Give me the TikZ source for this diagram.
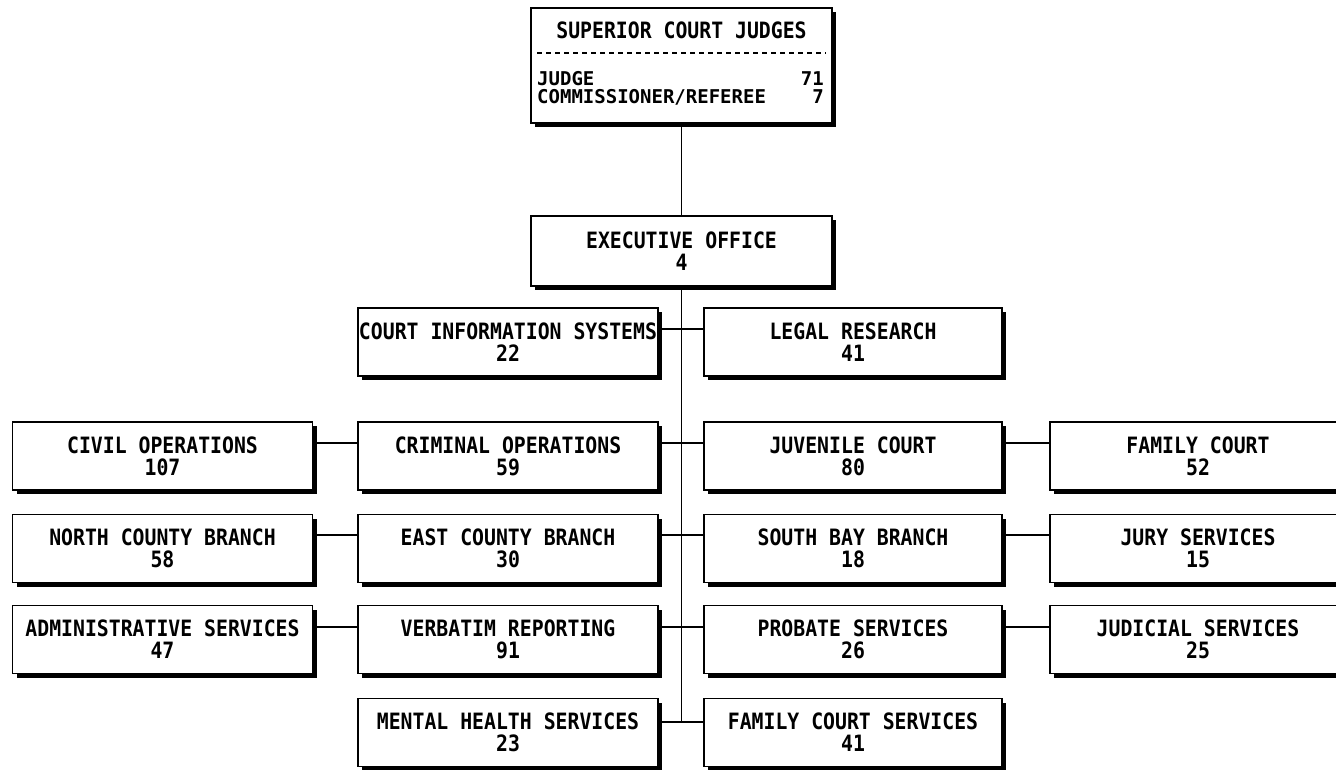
\documentclass[tikz,border=0pt]{standalone}
\usepackage{fontspec}
\usetikzlibrary{shadows}
\newfontfamily\orgfont{DejaVu Sans Mono}[FakeStretch=0.88]
\newfontfamily\subfont{DejaVu Sans Mono}

\begin{document}
\begin{tikzpicture}[x=1pt,y=-1pt,
  unit/.style={draw, line width=1.9pt, fill=white,
    minimum width=300pt, minimum height=68pt, inner sep=0pt, align=center,
    font=\orgfont\bfseries\fontsize{22.5}{22}\selectfont,
    drop shadow={shadow xshift=4pt, shadow yshift=-4pt, fill=black, opacity=1}},
  label/.style={inner sep=0pt, font=\orgfont\bfseries\fontsize{22.5}{22}\selectfont},
  sublabel/.style={inner sep=0pt, text height=14pt, text depth=0pt,
    font=\subfont\bfseries\fontsize{19}{19}\selectfont},
  link/.style={line width=1.7pt}]
\useasboundingbox (0,0) rectangle (1336,770);

% judges at the top
\node[unit, minimum width=301pt, minimum height=115pt] (judges) at (681.5,65.5) {};
\node[label] (title) at (681.5,30) {SUPERIOR COURT JUDGES};
\draw[line width=1.4pt, dash pattern=on 5pt off 4pt] (537,53) -- (826,53);
\node[sublabel, anchor=base west] (judge) at (537,86) {JUDGE};
\node[sublabel, anchor=base east] (judgen) at (824,86) {71};
\node[sublabel, anchor=base west] (comm) at (537,103.5) {COMMISSIONER/REFEREE};
\node[sublabel, anchor=base east] (commn) at (824,103.5) {7};

% executive office
\node[unit, minimum width=301pt, minimum height=70pt] (exec) at (681.5,251) {EXECUTIVE OFFICE\\4};

% first row
\node[unit] (cis) at (508,342) {COURT INFORMATION SYSTEMS\\22};
\node[unit, minimum width=298pt] (legal) at (853,342) {LEGAL RESEARCH\\41};

% second row
\node[unit] (civ) at (162.5,456) {CIVIL OPERATIONS\\107};
\node[unit] (crim) at (508,456) {CRIMINAL OPERATIONS\\59};
\node[unit, minimum width=298pt] (juv) at (853,456) {JUVENILE COURT\\80};
\node[unit, minimum width=296pt] (fam) at (1198,456) {FAMILY COURT\\52};

% third row
\node[unit] (north) at (162.5,548.5) {NORTH COUNTY BRANCH\\58};
\node[unit] (east) at (508,548.5) {EAST COUNTY BRANCH\\30};
\node[unit, minimum width=298pt] (south) at (853,548.5) {SOUTH BAY BRANCH\\18};
\node[unit, minimum width=296pt] (jury) at (1198,548.5) {JURY SERVICES\\15};

% fourth row
\node[unit] (admin) at (162.5,639.5) {ADMINISTRATIVE SERVICES\\47};
\node[unit] (verb) at (508,639.5) {VERBATIM REPORTING\\91};
\node[unit, minimum width=298pt] (prob) at (853,639.5) {PROBATE SERVICES\\26};
\node[unit, minimum width=296pt] (judic) at (1198,639.5) {JUDICIAL SERVICES\\25};

% fifth row
\node[unit] (mental) at (508,732.5) {MENTAL HEALTH SERVICES\\23};
\node[unit, minimum width=298pt] (fcs) at (853,732.5) {FAMILY COURT SERVICES\\41};

% junctions on the trunk
\coordinate (j1) at (681.5,329);
\coordinate (j2) at (681.5,443);
\coordinate (j3) at (681.5,535);
\coordinate (j4) at (681.5,627);
\coordinate (j5) at (681.5,722);

% trunk
\draw[link] (judges.south) -- (exec.north);
\draw[link] (exec.south) -- (j5);

% branches
\draw[link] (cis.east |- j1) -- (legal.west |- j1);
\draw[link] (crim.east |- j2) -- (juv.west |- j2);
\draw[link] (east.east |- j3) -- (south.west |- j3);
\draw[link] (verb.east |- j4) -- (prob.west |- j4);
\draw[link] (mental.east |- j5) -- (fcs.west |- j5);
\draw[link] (civ.east |- j2) -- (crim.west |- j2);
\draw[link] (north.east |- j3) -- (east.west |- j3);
\draw[link] (admin.east |- j4) -- (verb.west |- j4);
\draw[link] (juv.east |- j2) -- (fam.west |- j2);
\draw[link] (south.east |- j3) -- (jury.west |- j3);
\draw[link] (prob.east |- j4) -- (judic.west |- j4);
\end{tikzpicture}
\end{document}
